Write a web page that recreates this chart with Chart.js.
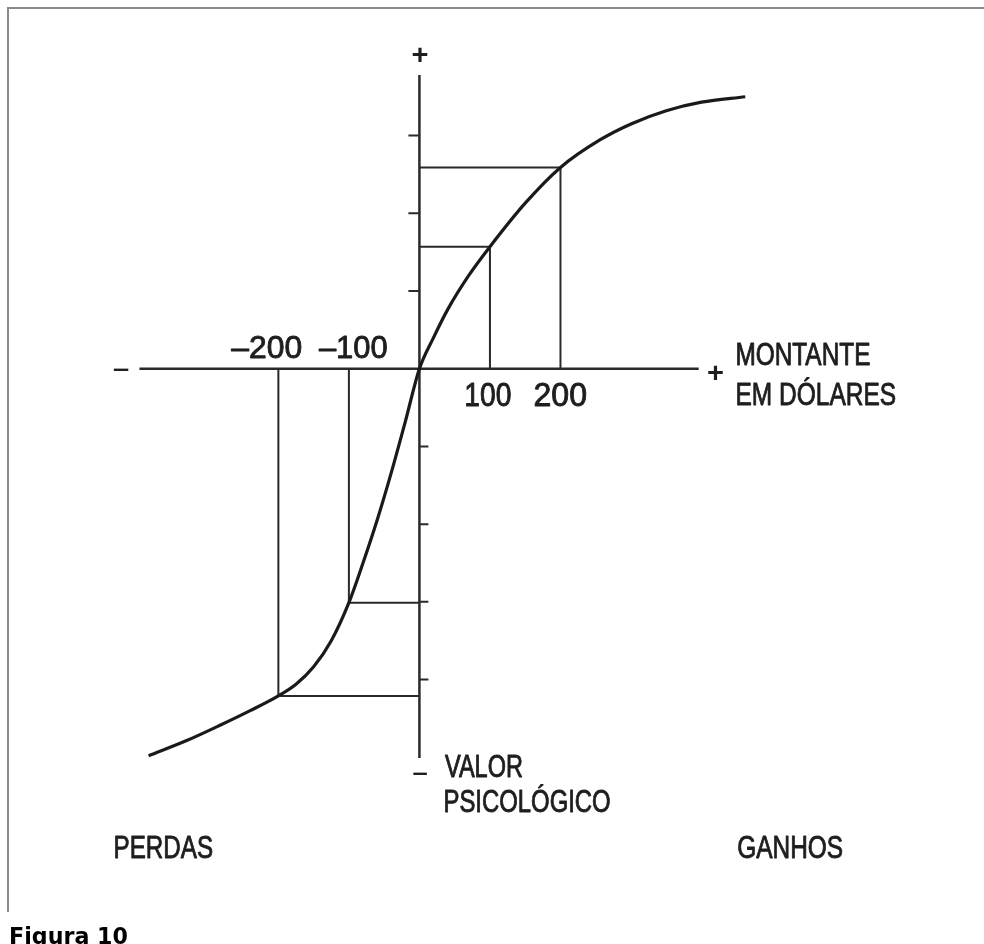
<!DOCTYPE html>
<html>
<head>
<meta charset="utf-8">
<script src="https://cdn.jsdelivr.net/npm/chart.js@4.4.1/dist/chart.umd.min.js"></script>
<style>
  html, body { margin: 0; padding: 0; background: #fff; }
  #wrap { width: 984px; height: 944px; position: relative; }
</style>
</head>
<body>
<div id="wrap"><canvas id="c" width="984" height="944"></canvas></div>
<script>
// ---- data ----
// value curve: amount in dollars (x) vs psychological value (y, in tick units)
const curveX = [-384, -330, -282, -240, -200, -175, -150, -125, -100, -80, -60, -40, -20, 0, 20, 40, 70, 100, 150, 200, 257, 300, 350, 400, 462];
const curveY = [-4.98, -4.785, -4.585, -4.40, -4.21, -4.06, -3.835, -3.50, -3.01, -2.50, -1.95, -1.34, -0.68, 0, 0.40, 0.76, 1.20, 1.57, 2.13, 2.59, 2.95, 3.15, 3.32, 3.43, 3.50];
// guide rectangles at -200, -100, 100, 200 dollars
const guideX = [-200, -100, 100, 200];
const guideY = [-4.21, -3.01, 1.57, 2.59];
const guideLabels = ['\u2013200', '\u2013100', '100', '200'];
// axes extents
const xAxisSpan = [-397, 396];
const yAxisSpan = [-5.01, 3.78];
// tick marks on the value axis
const yTicksGain = [1, 2, 3];
const yTicksLoss = [-1, -2, -3, -4];

// ---- datasets ----
const LINE = '#1a1a1a';
const datasets = [];
datasets.push({
  data: curveX.map((x, i) => ({ x, y: curveY[i] })),
  showLine: true, borderColor: LINE, borderWidth: 3.2, pointRadius: 0,
  cubicInterpolationMode: 'monotone', fill: false
});
datasets.push({
  data: xAxisSpan.map(x => ({ x, y: 0 })),
  showLine: true, borderColor: '#2a2a2a', borderWidth: 2.5, pointRadius: 0
});
datasets.push({
  data: yAxisSpan.map(y => ({ x: 0, y })),
  showLine: true, borderColor: '#2a2a2a', borderWidth: 2.5, pointRadius: 0
});
guideX.forEach((gx, i) => {
  datasets.push({
    data: [{ x: gx, y: 0 }, { x: gx, y: guideY[i] }, { x: 0, y: guideY[i] }],
    showLine: true, borderColor: '#2a2a2a', borderWidth: 2, pointRadius: 0, tension: 0
  });
});

// ---- text helpers ----
const SANS = '"Liberation Sans", Arial, sans-serif';
function capText(ctx, text, left, capTop, capH, inkW, color) {
  const size = capH / 0.716;
  ctx.save();
  ctx.font = `${size}px ${SANS}`;
  ctx.textBaseline = 'alphabetic';
  ctx.textAlign = 'left';
  const m = ctx.measureText(text);
  const ink = m.actualBoundingBoxLeft + m.actualBoundingBoxRight;
  const sx = inkW / ink;
  ctx.translate(left, capTop + capH);
  ctx.scale(sx, 1);
  ctx.fillStyle = color || '#1e1e1e';
  ctx.strokeStyle = color || '#1e1e1e';
  ctx.lineWidth = 0.9;
  ctx.lineJoin = 'round';
  ctx.fillText(text, m.actualBoundingBoxLeft, 0);
  ctx.strokeText(text, m.actualBoundingBoxLeft, 0);
  ctx.restore();
}
function boxText(ctx, text, left, top, w, h, font, color) {
  ctx.save();
  ctx.font = font;
  ctx.textBaseline = 'alphabetic';
  ctx.textAlign = 'left';
  const m = ctx.measureText(text);
  const iw = m.actualBoundingBoxLeft + m.actualBoundingBoxRight;
  const ih = m.actualBoundingBoxAscent + m.actualBoundingBoxDescent;
  ctx.translate(left, top);
  ctx.scale(w / iw, h / ih);
  ctx.fillStyle = color || '#1e1e1e';
  ctx.fillText(text, m.actualBoundingBoxLeft, m.actualBoundingBoxAscent);
  ctx.restore();
}

const decor = {
  id: 'decor',
  beforeDraw(chart) {
    const ctx = chart.ctx;
    ctx.save();
    ctx.fillStyle = '#fff';
    ctx.fillRect(0, 0, chart.width, chart.height);
    // frame
    ctx.strokeStyle = '#8a8a8a';
    ctx.lineWidth = 2;
    ctx.beginPath();
    ctx.moveTo(8, 912); ctx.lineTo(8, 8); ctx.lineTo(984, 8);
    ctx.stroke();
    ctx.restore();
  },
  afterDraw(chart) {
    const ctx = chart.ctx;
    const xs = chart.scales.x, ys = chart.scales.y;
    const x0 = xs.getPixelForValue(0);
    ctx.save();
    ctx.strokeStyle = '#2a2a2a';
    ctx.lineWidth = 2;
    ctx.beginPath();
    yTicksGain.forEach(v => { const p = ys.getPixelForValue(v); ctx.moveTo(x0 - 11, p); ctx.lineTo(x0, p); });
    yTicksLoss.forEach(v => { const p = ys.getPixelForValue(v); ctx.moveTo(x0, p); ctx.lineTo(x0 + 9, p); });
    ctx.stroke();
    ctx.restore();

    // sign marks at the axis ends
    const big = `bold 31px ${SANS}`;
    boxText(ctx, '+', x0 - 7, 47, 15, 15, big);
    boxText(ctx, '+', 708, 365, 15, 15, big);
    boxText(ctx, '\u2013', 113, 367.5, 16, 3, big);
    boxText(ctx, '\u2013', x0 - 7, 771.5, 15, 3, big);

    // tick labels on the dollar axis
    const offs = [[-47, 70], [-30, 68], [-24, 45], [-26, 52]];
    guideX.forEach((gx, i) => {
      const p = xs.getPixelForValue(gx);
      const top = gx < 0 ? 335 : 382;
      const h = gx < 0 ? 23 : 24;
      capText(ctx, guideLabels[i], p + offs[i][0], top, h, offs[i][1]);
    });

    // axis titles
    capText(ctx, 'MONTANTE', 737, 343, 22, 133);
    capText(ctx, 'EM DÓLARES', 737, 382, 23, 158);
    capText(ctx, 'VALOR', 445, 755, 22, 77);
    capText(ctx, 'PSICOLÓGICO', 445, 790, 22, 165);
    capText(ctx, 'PERDAS', 115, 835, 23, 97);
    capText(ctx, 'GANHOS', 738, 835, 23, 104);

    // caption
    ctx.save();
    ctx.font = `bold 23px "DejaVu Sans", Verdana, sans-serif`;
    const m = ctx.measureText('Figura 10');
    const iw = m.actualBoundingBoxLeft + m.actualBoundingBoxRight;
    ctx.translate(11, 944);
    ctx.scale(116 / iw, 1);
    ctx.fillStyle = '#000';
    ctx.textBaseline = 'alphabetic';
    ctx.fillText('Figura 10', m.actualBoundingBoxLeft, 0);
    ctx.restore();
  }
};

new Chart(document.getElementById('c'), {
  type: 'scatter',
  data: { datasets },
  options: {
    responsive: false,
    devicePixelRatio: 1,
    animation: false,
    events: [],
    layout: { padding: { left: 95, right: 85, top: 19, bottom: 109 } },
    plugins: { legend: { display: false }, tooltip: { enabled: false } },
    scales: {
      x: { type: 'linear', min: -460, max: 680, display: false },
      y: { type: 'linear', min: -6, max: 4.5, display: false }
    }
  },
  plugins: [decor]
});
</script>
</body>
</html>
